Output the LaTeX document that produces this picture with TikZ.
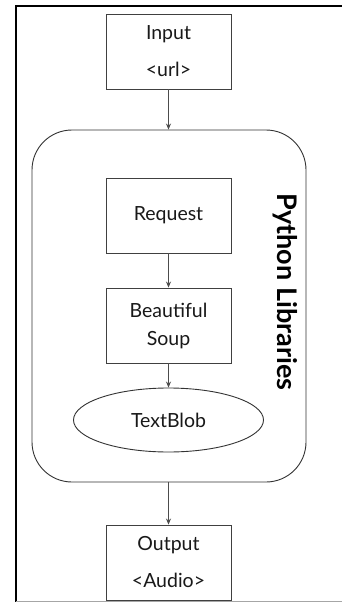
\documentclass[tikz,border=0pt]{standalone}
\usepackage{fontspec}
\setmainfont{Lato}
\usetikzlibrary{shapes.geometric,arrows.meta}
\begin{document}
\begin{tikzpicture}[x=1pt,y=-1pt,
  stepbox/.style={draw=black!75,line width=0.9pt,minimum width=125pt,minimum height=75pt,inner sep=0pt,align=center,font=\fontsize{19.5}{37}\selectfont,text=black!90},
  blob/.style={draw=black!80,line width=0.9pt,ellipse,minimum width=190pt,minimum height=64pt,inner sep=0pt,font=\fontsize{19.5}{22}\selectfont,text=black!90},
  group/.style={draw=black!80,line width=0.9pt,rounded corners=40pt},
  flow/.style={draw=black!70,line width=0.8pt,-{Stealth[length=6pt,width=5pt]}}]
\useasboundingbox (0,0) rectangle (342,602);
\fill[white] (0,0) rectangle (342,602);
% page frame
\draw[line width=2pt,black] (16,602) -- (16,6) -- (342,6);
\draw[line width=1pt,black!35] (16,601) -- (342,601);
% library group
\node[group,minimum width=274pt,minimum height=352pt,inner sep=0pt] (libs) at (169,306) {};
\node[rotate=-90,font=\bfseries\fontsize{27}{30}\selectfont] (title) at (285,292) {Python Libraries};
% steps
\node[stepbox] (input) at (168.5,51.5) {Input\\{<url>}};
\node[stepbox] (request) at (168.5,215.5) {Request};
\node[stepbox,font=\fontsize{19.5}{28}\selectfont] (soup) at (168.5,325.5) {Beautiful\\Soup};
\node[blob] (textblob) at (168.5,420) {TextBlob};
\node[stepbox] (output) at (168.5,562.5) {Output\\{<Audio>}};
% connectors
\draw[flow] (input) -- (libs.north -| input.south);
\draw[flow] (request) -- (soup);
\draw[flow] (soup) -- (textblob);
\draw[flow] (libs.south -| output.north) -- (output);
\end{tikzpicture}
\end{document}
